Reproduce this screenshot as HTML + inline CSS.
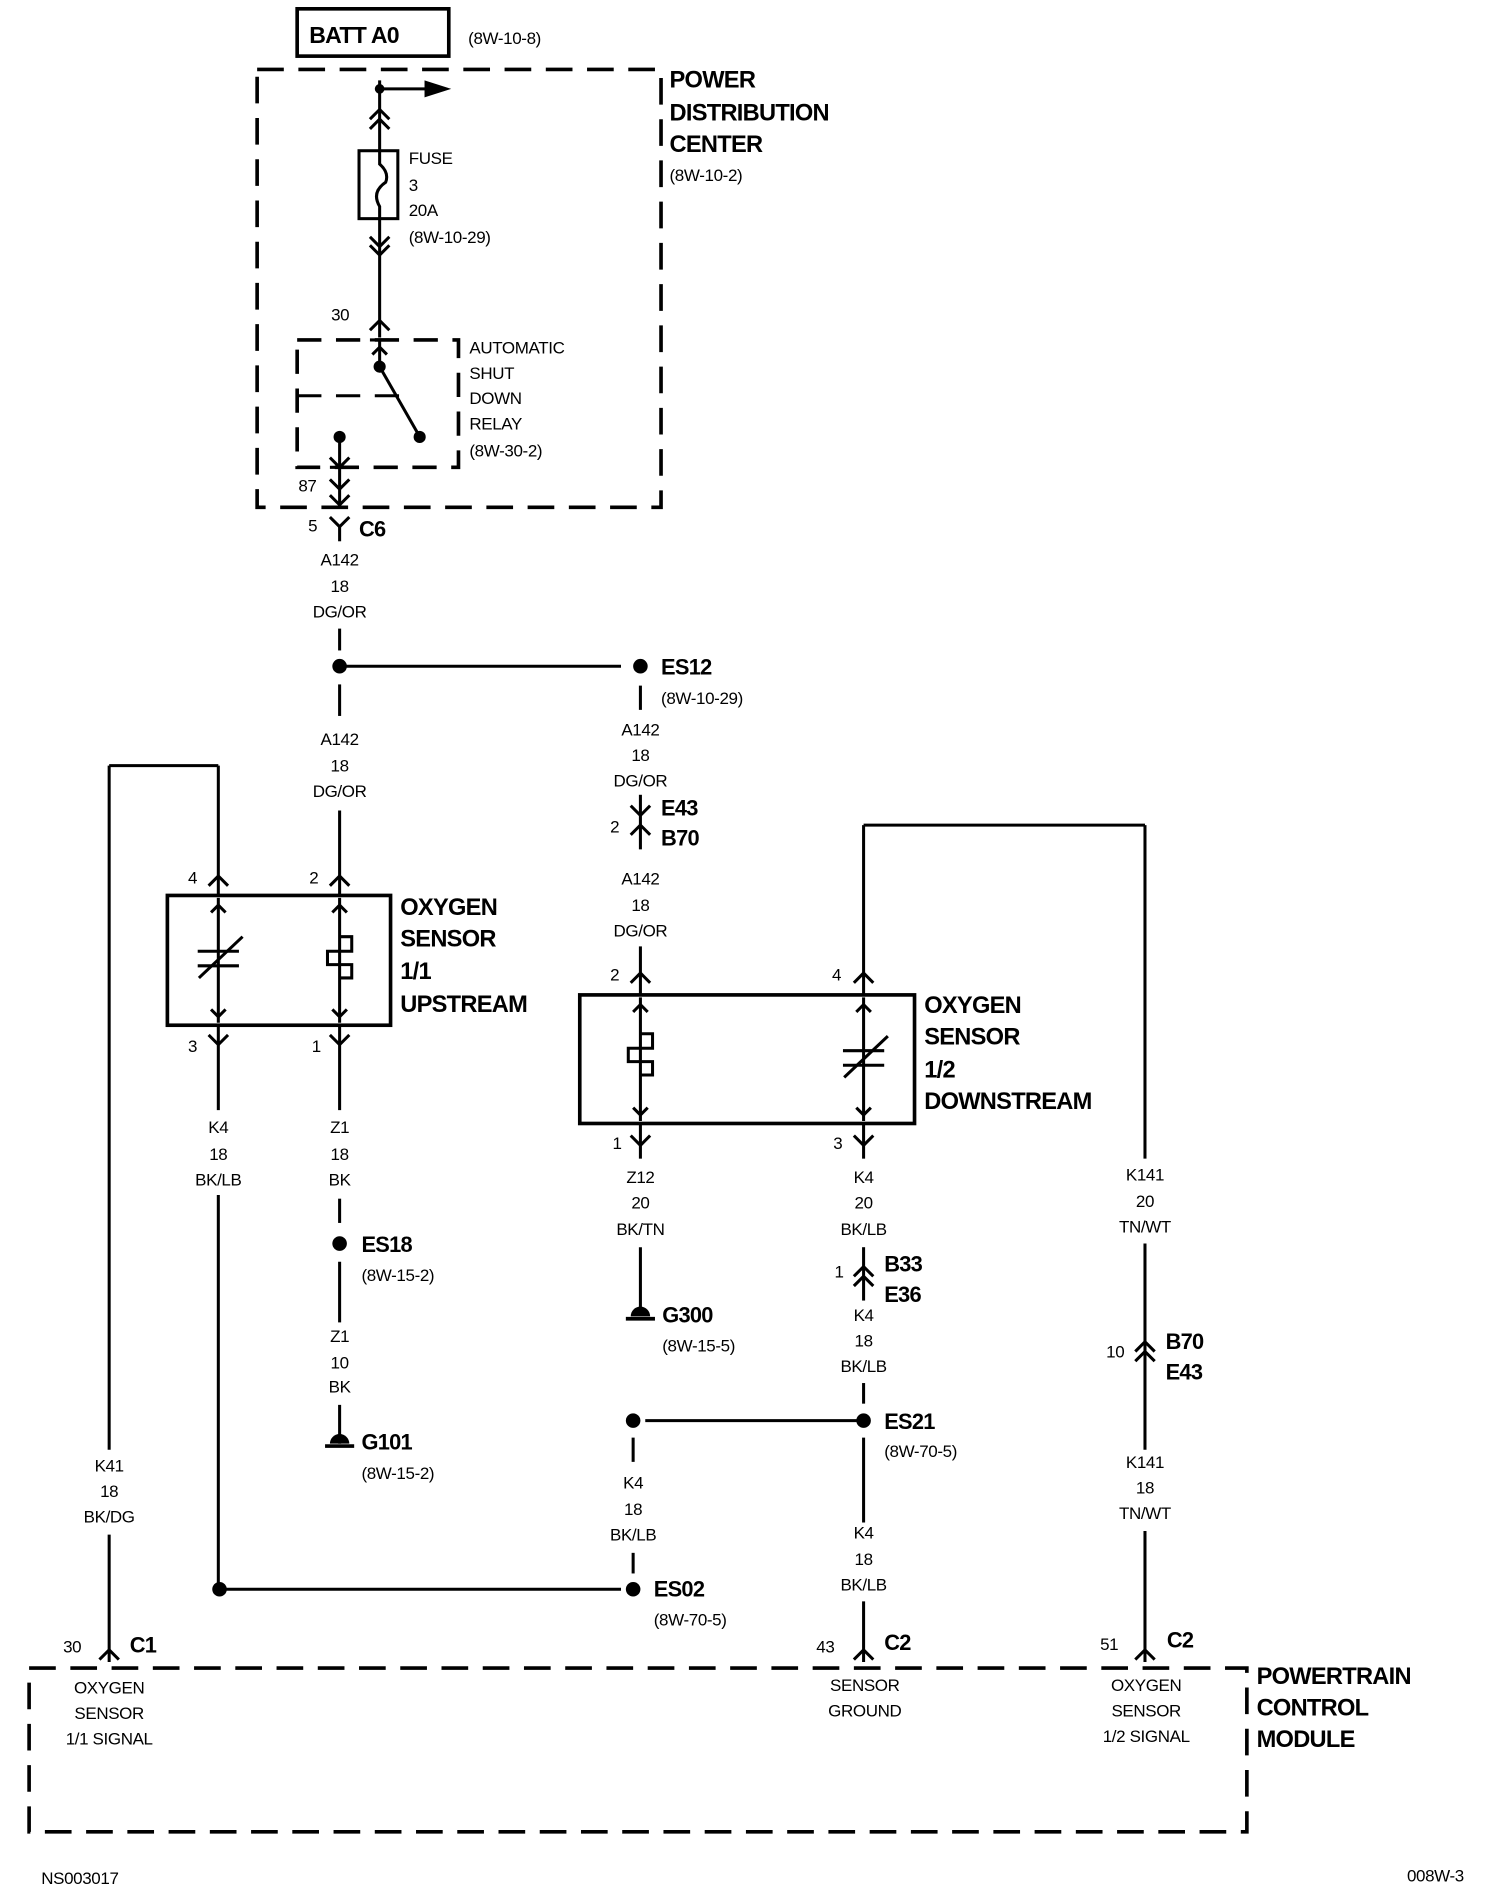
<!DOCTYPE html>
<html><head><meta charset="utf-8"><style>
html,body{margin:0;padding:0;background:#fff}
svg{display:block}
text{font-family:"Liberation Sans Narrow","Liberation Sans",sans-serif;fill:#000;font-size:14px;letter-spacing:-0.3px}
.b{font-weight:bold;font-size:19.5px;letter-spacing:-0.6px}
.c{text-anchor:middle}
</style></head><body>
<svg width="1504" height="1894" viewBox="0 0 1240 1561" xmlns="http://www.w3.org/2000/svg">
<g fill="none" stroke="#000" stroke-width="2.5">
<rect x="245" y="7" width="125" height="39" stroke-width="3"/>
<rect x="212" y="57" width="333" height="361" stroke-dasharray="22 12" stroke-width="3"/>
<rect x="245" y="280" width="133" height="105" stroke-dasharray="20 12" stroke-width="3"/>
<line x1="245" y1="326" x2="330" y2="326" stroke-dasharray="20 12"/>
<rect x="24" y="1375" width="1004" height="135" stroke-dasharray="22 12" stroke-width="3"/>
<line x1="313" y1="66" x2="313" y2="124"/>
<line x1="313" y1="73" x2="352" y2="73"/>
<polyline points="305,98 313,90 321,98"/><polyline points="305,106 313,98 321,106"/>
<rect x="296" y="124" width="32" height="56"/>
<path d="M313,124 V135 Q321,142 318,150 Q306,158 313,170 V180"/>
<line x1="313" y1="180" x2="313" y2="278"/>
<polyline points="305,195 313,203 321,195"/><polyline points="305,202 313,210 321,202"/>
<polyline points="305,272 313,264 321,272"/>
<line x1="305" y1="280" x2="321" y2="280"/><polyline points="307,292 313,286 319,292"/>
<line x1="313" y1="280" x2="313" y2="302"/>
<line x1="313" y1="302" x2="345" y2="358"/>
<line x1="280" y1="360" x2="280" y2="418"/>
<polyline points="272,377 280,385 288,377"/><line x1="272" y1="385" x2="288" y2="385"/>
<polyline points="272,395 280,403 288,395"/><polyline points="272,408 280,416 288,408"/>
<polyline points="272,426 280,434 288,426"/><line x1="280" y1="434" x2="280" y2="446"/>
<line x1="280" y1="518" x2="280" y2="536"/>
<line x1="280" y1="549" x2="512" y2="549"/>
<line x1="280" y1="564" x2="280" y2="590"/>
<line x1="280" y1="668" x2="280" y2="738"/>
<polyline points="272,730 280,722 288,730"/>
<rect x="138" y="738" width="184" height="107" stroke-width="3"/>
<line x1="180" y1="740" x2="180" y2="843"/>
<polyline points="174,752 180,746 186,752"/><polyline points="174,832 180,838 186,832"/>
<line x1="163" y1="784" x2="197" y2="784"/><line x1="163" y1="796" x2="197" y2="796"/>
<line x1="164" y1="806" x2="200" y2="772"/>
<line x1="280" y1="740" x2="280" y2="843"/>
<polyline points="274,752 280,746 286,752"/><polyline points="274,832 280,838 286,832"/>
<path d="M280,772 H290 V784 H270 V795 H290 V806 H280"/>
<line x1="180" y1="738" x2="180" y2="631"/><polyline points="172,730 180,722 188,730"/>
<line x1="180" y1="631" x2="90" y2="631"/><line x1="90" y1="631" x2="90" y2="1195"/>
<line x1="90" y1="1265" x2="90" y2="1370"/><polyline points="82,1368 90,1360 98,1368"/>
<polyline points="172,853 180,861 188,853"/><line x1="180" y1="845" x2="180" y2="915"/>
<line x1="180" y1="985" x2="180" y2="1310"/>
<line x1="181" y1="1310" x2="512" y2="1310"/>
<polyline points="272,853 280,861 288,853"/><line x1="280" y1="845" x2="280" y2="915"/>
<line x1="280" y1="988" x2="280" y2="1008"/>
<line x1="280" y1="1040" x2="280" y2="1090"/>
<line x1="280" y1="1158" x2="280" y2="1190"/>
<line x1="268" y1="1192" x2="292" y2="1192" stroke-width="3"/>
<line x1="528" y1="565" x2="528" y2="585"/>
<line x1="528" y1="655" x2="528" y2="700"/>
<polyline points="520,664 528,672 536,664"/><polyline points="520,688 528,680 536,688"/>
<line x1="528" y1="780" x2="528" y2="820"/><polyline points="520,810 528,802 536,810"/>
<rect x="478" y="820" width="276" height="106" stroke-width="3"/>
<line x1="528" y1="822" x2="528" y2="924"/>
<polyline points="522,834 528,828 534,834"/><polyline points="522,913 528,919 534,913"/>
<path d="M528,852 H538 V864 H518 V875 H538 V886 H528"/>
<line x1="712" y1="822" x2="712" y2="924"/>
<polyline points="706,834 712,828 718,834"/><polyline points="706,913 712,919 718,913"/>
<line x1="695" y1="866" x2="729" y2="866"/><line x1="695" y1="878" x2="729" y2="878"/>
<line x1="696" y1="888" x2="732" y2="854"/>
<line x1="712" y1="820" x2="712" y2="680"/><polyline points="704,810 712,802 720,810"/>
<line x1="712" y1="680" x2="944" y2="680"/><line x1="944" y1="680" x2="944" y2="955"/>
<polyline points="520,936 528,944 536,936"/><line x1="528" y1="926" x2="528" y2="955"/>
<line x1="528" y1="1028" x2="528" y2="1082"/>
<line x1="516" y1="1087" x2="540" y2="1087" stroke-width="3"/>
<polyline points="704,936 712,944 720,936"/><line x1="712" y1="926" x2="712" y2="955"/>
<line x1="712" y1="1028" x2="712" y2="1072"/>
<polyline points="704,1052 712,1044 720,1052"/><polyline points="704,1060 712,1052 720,1060"/>
<line x1="712" y1="1140" x2="712" y2="1157"/>
<line x1="532" y1="1171" x2="712" y2="1171"/>
<line x1="522" y1="1185" x2="522" y2="1205"/>
<line x1="522" y1="1280" x2="522" y2="1297"/>
<line x1="712" y1="1185" x2="712" y2="1255"/>
<line x1="712" y1="1320" x2="712" y2="1370"/><polyline points="704,1368 712,1360 720,1368"/>
<line x1="944" y1="1025" x2="944" y2="1195"/>
<polyline points="936,1114 944,1106 952,1114"/><polyline points="936,1122 944,1114 952,1122"/>
<line x1="944" y1="1262" x2="944" y2="1370"/><polyline points="936,1368 944,1360 952,1368"/>
</g>
<g fill="#000">
<polygon points="350,66 372,73 350,80"/>
<circle cx="313" cy="73" r="4"/><circle cx="313" cy="302" r="5"/><circle cx="346" cy="360" r="5"/><circle cx="280" cy="360" r="5"/>
<circle cx="280" cy="549" r="6"/><circle cx="528" cy="549" r="6"/>
<circle cx="280" cy="1025" r="6"/><circle cx="181" cy="1310" r="6"/><circle cx="522" cy="1310" r="6"/>
<circle cx="522" cy="1171" r="6"/><circle cx="712" cy="1171" r="6"/>
<path d="M272,1190 A8,8 0 0 1 288,1190 Z"/><path d="M520,1085 A8,8 0 0 1 536,1085 Z"/>
</g>
<text x="255" y="35" class="b" style="font-size:19px">BATT A0</text>
<text x="386" y="36">(8W-10-8)</text>
<text x="552" y="72" class="b">POWER</text><text x="552" y="99" class="b">DISTRIBUTION</text><text x="552" y="125" class="b">CENTER</text>
<text x="552" y="149">(8W-10-2)</text>
<text x="337" y="135">FUSE</text><text x="337" y="157">3</text><text x="337" y="178">20A</text><text x="337" y="200">(8W-10-29)</text>
<text x="273" y="264">30</text>
<text x="387" y="291">AUTOMATIC</text><text x="387" y="312">SHUT</text><text x="387" y="333">DOWN</text><text x="387" y="354">RELAY</text><text x="387" y="376">(8W-30-2)</text>
<text x="246" y="405">87</text><text x="254" y="438">5</text><text x="296" y="442" class="b" style="font-size:18px">C6</text>
<text x="280" y="466" class="c">A142</text><text x="280" y="488" class="c">18</text><text x="280" y="509" class="c">DG/OR</text>
<text x="280" y="614" class="c">A142</text><text x="280" y="636" class="c">18</text><text x="280" y="657" class="c">DG/OR</text>
<text x="528" y="606" class="c">A142</text><text x="528" y="627" class="c">18</text><text x="528" y="648" class="c">DG/OR</text>
<text x="528" y="729" class="c">A142</text><text x="528" y="751" class="c">18</text><text x="528" y="772" class="c">DG/OR</text>
<text x="180" y="934" class="c">K4</text><text x="180" y="956" class="c">18</text><text x="180" y="977" class="c">BK/LB</text>
<text x="280" y="934" class="c">Z1</text><text x="280" y="956" class="c">18</text><text x="280" y="977" class="c">BK</text>
<text x="280" y="1106" class="c">Z1</text><text x="280" y="1128" class="c">10</text><text x="280" y="1148" class="c">BK</text>
<text x="90" y="1213" class="c">K41</text><text x="90" y="1234" class="c">18</text><text x="90" y="1255" class="c">BK/DG</text>
<text x="528" y="975" class="c">Z12</text><text x="528" y="996" class="c">20</text><text x="528" y="1018" class="c">BK/TN</text>
<text x="712" y="975" class="c">K4</text><text x="712" y="996" class="c">20</text><text x="712" y="1018" class="c">BK/LB</text>
<text x="712" y="1089" class="c">K4</text><text x="712" y="1110" class="c">18</text><text x="712" y="1131" class="c">BK/LB</text>
<text x="522" y="1227" class="c">K4</text><text x="522" y="1249" class="c">18</text><text x="522" y="1270" class="c">BK/LB</text>
<text x="712" y="1268" class="c">K4</text><text x="712" y="1290" class="c">18</text><text x="712" y="1311" class="c">BK/LB</text>
<text x="944" y="973" class="c">K141</text><text x="944" y="995" class="c">20</text><text x="944" y="1016" class="c">TN/WT</text>
<text x="944" y="1210" class="c">K141</text><text x="944" y="1231" class="c">18</text><text x="944" y="1252" class="c">TN/WT</text>
<text x="90" y="1396" class="c">OXYGEN</text><text x="90" y="1417" class="c">SENSOR</text><text x="90" y="1438" class="c">1/1 SIGNAL</text>
<text x="713" y="1394" class="c">SENSOR</text><text x="713" y="1415" class="c">GROUND</text>
<text x="945" y="1394" class="c">OXYGEN</text><text x="945" y="1415" class="c">SENSOR</text><text x="945" y="1436" class="c">1/2 SIGNAL</text>
<text x="545" y="556" class="b" style="font-size:18px">ES12</text><text x="545" y="580">(8W-10-29)</text>
<text x="545" y="672" class="b" style="font-size:18px">E43</text><text x="545" y="697" class="b" style="font-size:18px">B70</text><text x="503" y="686">2</text>
<text x="255" y="728">2</text><text x="155" y="728">4</text>
<text x="330" y="754" class="b">OXYGEN</text><text x="330" y="780" class="b">SENSOR</text><text x="330" y="807" class="b">1/1</text><text x="330" y="834" class="b">UPSTREAM</text>
<text x="155" y="867">3</text><text x="257" y="867">1</text>
<text x="298" y="1032" class="b" style="font-size:18px">ES18</text><text x="298" y="1056">(8W-15-2)</text>
<text x="298" y="1195" class="b" style="font-size:18px">G101</text><text x="298" y="1219">(8W-15-2)</text>
<text x="503" y="808">2</text><text x="686" y="808">4</text>
<text x="762" y="835" class="b">OXYGEN</text><text x="762" y="861" class="b">SENSOR</text><text x="762" y="888" class="b">1/2</text><text x="762" y="914" class="b">DOWNSTREAM</text>
<text x="505" y="947">1</text><text x="687" y="947">3</text>
<text x="546" y="1090" class="b" style="font-size:18px">G300</text><text x="546" y="1114">(8W-15-5)</text>
<text x="688" y="1053">1</text><text x="729" y="1048" class="b" style="font-size:18px">B33</text><text x="729" y="1073" class="b" style="font-size:18px">E36</text>
<text x="729" y="1178" class="b" style="font-size:18px">ES21</text><text x="729" y="1201">(8W-70-5)</text>
<text x="539" y="1316" class="b" style="font-size:18px">ES02</text><text x="539" y="1340">(8W-70-5)</text>
<text x="912" y="1119">10</text><text x="961" y="1112" class="b" style="font-size:18px">B70</text><text x="961" y="1137" class="b" style="font-size:18px">E43</text>
<text x="52" y="1362">30</text><text x="107" y="1362" class="b" style="font-size:18px">C1</text>
<text x="673" y="1362">43</text><text x="729" y="1360" class="b" style="font-size:18px">C2</text>
<text x="907" y="1360">51</text><text x="962" y="1358" class="b" style="font-size:18px">C2</text>
<text x="1036" y="1388" class="b">POWERTRAIN</text><text x="1036" y="1414" class="b">CONTROL</text><text x="1036" y="1440" class="b">MODULE</text>
<text x="34" y="1553">NS003017</text><text x="1160" y="1551">008W-3</text>
</svg>
</body></html>
